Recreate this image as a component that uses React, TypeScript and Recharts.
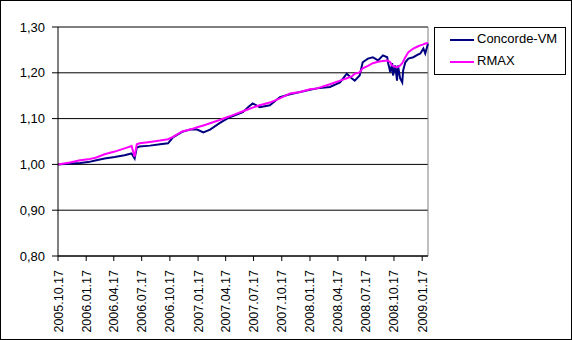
import React from "react";
import { LineChart, Line, XAxis, YAxis, CartesianGrid, ReferenceLine, Legend } from "recharts";

const DATES = [
  "2005.10.17", "2005.11.25", "2005.12.28", "2006.01.24", "2006.02.19", "2006.03.18",
  "2006.04.20", "2006.05.22", "2006.06.14", "2006.06.24", "2006.07.01", "2006.07.10",
  "2006.08.13", "2006.09.15", "2006.10.11", "2006.10.27", "2006.11.26", "2006.12.22",
  "2007.01.14", "2007.02.03", "2007.02.25", "2007.03.28", "2007.04.30", "2007.05.23",
  "2007.06.12", "2007.06.28", "2007.07.14", "2007.08.06", "2007.09.08", "2007.10.11",
  "2007.11.13", "2007.12.16", "2008.01.17", "2008.02.09", "2008.03.22", "2008.04.24",
  "2008.05.16", "2008.06.01", "2008.06.11", "2008.06.27", "2008.07.07", "2008.07.24",
  "2008.08.09", "2008.08.26", "2008.09.11", "2008.09.25", "2008.09.28", "2008.10.05",
  "2008.10.11", "2008.10.14", "2008.10.21", "2008.10.27", "2008.10.30", "2008.11.06",
  "2008.11.13", "2008.11.16", "2008.11.23", "2008.12.03", "2008.12.19", "2009.01.04",
  "2009.01.11", "2009.01.21", "2009.01.27", "2009.02.05",
];

const CONCORDE = [
  1.000, 1.002, 1.003, 1.005, 1.009, 1.013,
  1.016, 1.020, 1.024, 1.013, 1.037, 1.039,
  1.041, 1.044, 1.046, 1.059, 1.071, 1.076,
  1.076, 1.070, 1.076, 1.090, 1.103, 1.109,
  1.114, 1.124, 1.133, 1.125, 1.129, 1.147,
  1.153, 1.158, 1.163, 1.166, 1.169, 1.179,
  1.198, 1.188, 1.183, 1.194, 1.223, 1.231,
  1.234, 1.227, 1.238, 1.234, 1.221, 1.201,
  1.221, 1.194, 1.216, 1.183, 1.216, 1.188,
  1.179, 1.205, 1.223, 1.231, 1.234, 1.240,
  1.242, 1.253, 1.242, 1.264,
];

const RMAX = [
  1.000, 1.004, 1.009, 1.011, 1.015, 1.022,
  1.028, 1.035, 1.040, 1.017, 1.044, 1.046,
  1.049, 1.052, 1.055, 1.060, 1.072, 1.076,
  1.081, 1.085, 1.090, 1.097, 1.105, 1.111,
  1.116, 1.120, 1.124, 1.129, 1.135, 1.144,
  1.155, 1.158, 1.164, 1.166, 1.175, 1.183,
  1.188, 1.192, 1.198, 1.201, 1.210, 1.215,
  1.221, 1.224, 1.226, 1.227, 1.226, 1.223,
  1.216, 1.215, 1.213, 1.212, 1.213, 1.216,
  1.221, 1.225, 1.234, 1.245, 1.253, 1.258,
  1.260, 1.262, 1.264, 1.265,
];

const TICK_DATES = [
  "2005.10.17", "2006.01.17", "2006.04.17", "2006.07.17", "2006.10.17", "2007.01.17",
  "2007.04.17", "2007.07.17", "2007.10.17", "2008.01.17", "2008.04.17", "2008.07.17",
  "2008.10.17", "2009.01.17",
];

const Y_TICKS = [0.8, 0.9, 1.0, 1.1, 1.2, 1.3];

const FONT = "'Liberation Sans', Arial, sans-serif";

const toTs = (s: string) => {
  const [y, m, d] = s.split(".").map(Number);
  return Date.UTC(y, m - 1, d);
};

const data = DATES.map((d, i) => ({ ts: toTs(d), cvm: CONCORDE[i], rmax: RMAX[i] }));
const tickTs = TICK_DATES.map(toTs);
const labelByTs: Record<number, string> = {};
TICK_DATES.forEach((d) => (labelByTs[toTs(d)] = d));

const DateTick = (props: any) => {
  const { x, y, payload } = props;
  return (
    <text
      x={x}
      y={y}
      dy="0.36em"
      transform={`rotate(-90, ${x}, ${y})`}
      textAnchor="end"
      fontSize={12.5}
      fontFamily={FONT}
      fill="#000"
    >
      {labelByTs[payload.value]}
    </text>
  );
};

const LegendBox = () => (
  <div
    style={{
      position: "relative",
      width: 132,
      height: 48,
      border: "1px solid #000",
      boxSizing: "border-box",
      background: "#fff",
      fontFamily: FONT,
      fontSize: 13,
    }}
  >
    {[
      { name: "Concorde-VM", color: "#000080", top: 11 },
      { name: "RMAX", color: "#ff00ff", top: 33 },
    ].map((r) => (
      <div key={r.name}>
        <div style={{ position: "absolute", left: 15, top: r.top, width: 24, height: 2, background: r.color }} />
        <div style={{ position: "absolute", left: 42, top: r.top - 8, lineHeight: "16px", color: "#000" }}>{r.name}</div>
      </div>
    ))}
  </div>
);

export default function App() {
  return (
    <div
      style={{
        position: "absolute",
        left: 0,
        top: 0,
        width: 572,
        height: 340,
        border: "1px solid #000",
        boxSizing: "border-box",
        background: "#fff",
      }}
    >
      <LineChart width={570} height={338} data={data} margin={{ top: 26, right: 143, bottom: 0, left: 0 }}>
        <CartesianGrid stroke="#000" vertical={false} />
        <ReferenceLine y={1.3} stroke="#808080" />
        <ReferenceLine x={data[data.length - 1].ts} stroke="#808080" />
        <XAxis
          dataKey="ts"
          type="number"
          domain={["dataMin", "dataMax"]}
          ticks={tickTs}
          interval={0}
          height={83}
          tickSize={5}
          tickMargin={9}
          tick={<DateTick />}
          axisLine={{ stroke: "#000" }}
          tickLine={{ stroke: "#000" }}
        />
        <YAxis
          domain={[0.8, 1.3]}
          ticks={Y_TICKS}
          interval={0}
          width={57}
          tickSize={6}
          tickMargin={7}
          tickFormatter={(v: number) => v.toFixed(2).replace(".", ",")}
          tick={{ fontSize: 13, fontFamily: FONT, fill: "#000" }}
          axisLine={{ stroke: "#000" }}
          tickLine={{ stroke: "#000" }}
        />
        <Legend
          layout="horizontal"
          verticalAlign="middle"
          align="center"
          content={<LegendBox />}
          wrapperStyle={{ position: "absolute", left: 433, top: 26, width: 132, height: 48 }}
        />
        <Line type="linear" dataKey="cvm" name="Concorde-VM" stroke="#000080" strokeWidth={2} dot={false} isAnimationActive={false} />
        <Line type="linear" dataKey="rmax" name="RMAX" stroke="#ff00ff" strokeWidth={2} dot={false} isAnimationActive={false} />
      </LineChart>
    </div>
  );
}
